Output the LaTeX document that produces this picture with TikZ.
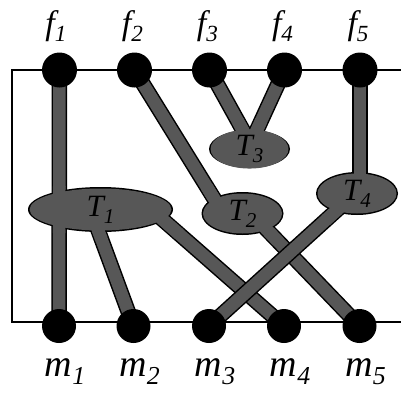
\documentclass[tikz,border=0pt]{standalone}
\usepackage{fontspec}
\setmainfont{Liberation Serif}
\usetikzlibrary{shapes.geometric,calc}
\pgfdeclarelayer{bg}
\pgfsetlayers{bg,main}
\newcommand\lbl[2]{\textit{#1\raisebox{-0.23em}{\scalebox{0.68}{#2}}}}
\definecolor{tgrey}{gray}{0.34}
\begin{document}
\begin{tikzpicture}[x=1pt,y=-1pt,
  vert/.style={circle,fill=black,inner sep=0pt,minimum size=35pt},
  tnode/.style={ellipse,fill=tgrey,inner sep=0pt,font=\fontsize{31}{31}\selectfont},
  conn/.style={line width=1.5pt,draw=black,double=tgrey,double distance=12.5pt},
  patch/.style={line width=12.5pt,draw=tgrey},
  frameline/.style={line width=1.5pt,draw=black},
  flab/.style={anchor=base,font=\fontsize{34}{34}\selectfont},
  mlab/.style={anchor=base,font=\fontsize{38}{38}\selectfont}]
\useasboundingbox (0,0) rectangle (401,394);

% vertices
\node[vert] (f1) at (59.5,70) {};
\node[vert] (f2) at (134.5,70) {};
\node[vert] (f3) at (209.5,70) {};
\node[vert] (f4) at (284.5,70) {};
\node[vert] (f5) at (360,70) {};
\node[vert,minimum size=34pt] (m1) at (59,326) {};
\node[vert,minimum size=34pt] (m2) at (133.5,326) {};
\node[vert,minimum size=34pt] (m3) at (209,326) {};
\node[vert,minimum size=34pt] (m4) at (284,326) {};
\node[vert,minimum size=34pt] (m5) at (359.5,326) {};

% labels
\node[flab] (lf1) at (56,34) {\lbl{f}{1}};
\node[flab] (lf2) at (132.5,34) {\lbl{f}{2}};
\node[flab] (lf3) at (207.5,34) {\lbl{f}{3}};
\node[flab] (lf4) at (282.5,34) {\lbl{f}{4}};
\node[flab] (lf5) at (358,34) {\lbl{f}{5}};
\node[mlab] (lm1) at (65,376) {\lbl{m}{1}};
\node[mlab] (lm2) at (139.5,376) {\lbl{m}{2}};
\node[mlab] (lm3) at (215,376) {\lbl{m}{3}};
\node[mlab] (lm4) at (290,376) {\lbl{m}{4}};
\node[mlab] (lm5) at (365.5,376) {\lbl{m}{5}};

% ellipses
\node[tnode,minimum width=142pt,minimum height=42pt] (T1) at (100.5,209.5) {\lbl{T}{1}};
\node[tnode,minimum width=79pt,minimum height=40pt] (T2) at (242.5,213.5) {\lbl{T}{2}};
\node[tnode,minimum width=78pt,minimum height=35pt] (T3) at (249.5,149) {\lbl{T}{3}};
\node[tnode,minimum width=79pt,minimum height=40pt] (T4) at (357,193.5) {\lbl{T}{4}};

% connector end points inside the ellipses
\coordinate (t1a) at (92.5,215);
\coordinate (t1b) at (154,212);
\coordinate (t2a) at (218,205);
\coordinate (t2b) at (255.6,218);
\coordinate (t3a) at (250.5,144);
\coordinate (t4a) at (360,195);
\coordinate (t4b) at (348,200);
\coordinate (t1top) at (59.25,186);
\coordinate (t1bot) at (59.1,233);

\begin{pgfonlayer}{bg}
  \draw[frameline] (401,70) -- (12,70) -- (12,322) -- (401,322);
  \draw[conn] (f1.center) -- (m1.center);
  \draw[conn] (f2.center) -- (t2a);
  \draw[conn] (f3.center) -- (t3a);
  \draw[conn] (f4.center) -- (t3a);
  \draw[conn] (f5.center) -- (t4a);
  \draw[conn] (m2.center) -- (t1a);
  \draw[conn] (m4.center) -- (t1b);
  \draw[conn] (m5.center) -- (t2b);
  \draw[conn] (m3.center) -- (t4b);
  % ellipse outlines
  \fill[black] (T1.center) ellipse [x radius=72.5pt, y radius=22.5pt];
  \fill[black] (T2.center) ellipse [x radius=41pt, y radius=21.5pt];
  \fill[black] (T3.center) ellipse [x radius=40.5pt, y radius=19pt];
  \fill[black] (T4.center) ellipse [x radius=41pt, y radius=21.5pt];
  % merge connectors into the ellipses
  \draw[patch] (t1top) -- (t1bot);
  \draw[patch] (t2a) -- ($(t2a)!22pt!(f2.center)$);
  \draw[patch] (t3a) -- ($(t3a)!26pt!(f3.center)$);
  \draw[patch] (t3a) -- ($(t3a)!26pt!(f4.center)$);
  \draw[patch] (t4a) -- ($(t4a)!30pt!(f5.center)$);
  \draw[patch] (t1a) -- ($(t1a)!26pt!(m2.center)$);
  \draw[patch] (t1b) -- ($(t1b)!34pt!(m4.center)$);
  \draw[patch] (t2b) -- ($(t2b)!32pt!(m5.center)$);
  \draw[patch] (t4b) -- ($(t4b)!30pt!(m3.center)$);
\end{pgfonlayer}
\end{tikzpicture}
\end{document}
